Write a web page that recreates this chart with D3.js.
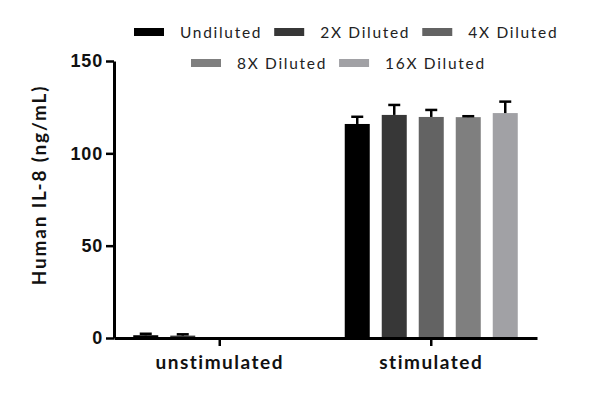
<!DOCTYPE html>
<html><head><meta charset="utf-8">
<script src="https://cdn.jsdelivr.net/npm/d3@7"></script>
<style>body{margin:0;background:#fff}</style>
</head><body>
<svg id="c" width="600" height="395"></svg>
<script>
const categories = ["unstimulated", "stimulated"];
const seriesNames = ["Undiluted", "2X Diluted", "4X Diluted", "8X Diluted", "16X Diluted"];
const seriesColors = ["#000000", "#373737", "#636363", "#7f7f7f", "#a1a1a5"];
const unstimulatedValues = [1.5, 1.3, 0, 0, 0];
const unstimulatedErrors = [0.8, 0.7, 0, 0, 0];
const stimulatedValues = [115.9, 120.8, 119.7, 119.6, 121.8];
const stimulatedErrors = [3.9, 5.4, 3.8, 0.5, 6.2];
const yTicks = [0, 50, 100, 150];

const valuesByCat = [unstimulatedValues, stimulatedValues];
const errorsByCat = [unstimulatedErrors, stimulatedErrors];

const svg = d3.select("#c");
const mLeft = 114, mRight = 537, mTop = 61, mBottom = 338;

const y = d3.scaleLinear().domain([0, 150]).range([mBottom, mTop]);
const x0 = d3.scaleBand().domain(categories).range([mLeft, mRight]).padding(0);
const x1 = d3.scaleBand().domain(seriesNames).range([0, x0.bandwidth()]).paddingInner(0.324).paddingOuter(0.52);

const data = [];
categories.forEach((c, ci) => seriesNames.forEach((s, si) => {
  data.push({cat: c, series: s, color: seriesColors[si], v: valuesByCat[ci][si], e: errorsByCat[ci][si]});
}));

const g = svg.append("g");
const shown = data.filter(d => d.v > 0);
g.selectAll("rect.bar").data(shown).join("rect")
  .attr("x", d => x0(d.cat) + x1(d.series))
  .attr("width", x1.bandwidth())
  .attr("y", d => y(d.v))
  .attr("height", d => y(0) - y(d.v))
  .attr("fill", d => d.color);

const eb = g.selectAll("g.err").data(shown).join("g");
eb.append("line")
  .attr("x1", d => x0(d.cat) + x1(d.series) + x1.bandwidth()/2)
  .attr("x2", d => x0(d.cat) + x1(d.series) + x1.bandwidth()/2)
  .attr("y1", d => y(d.v)).attr("y2", d => y(d.v + d.e))
  .attr("stroke", "#000").attr("stroke-width", 2.5);
eb.append("line")
  .attr("x1", d => x0(d.cat) + x1(d.series) + x1.bandwidth()/2 - 6)
  .attr("x2", d => x0(d.cat) + x1(d.series) + x1.bandwidth()/2 + 6)
  .attr("y1", d => y(d.v + d.e)).attr("y2", d => y(d.v + d.e))
  .attr("stroke", "#000").attr("stroke-width", 2.5);

// Y axis
const yAxis = svg.append("g").attr("transform", `translate(${mLeft},0)`)
  .call(d3.axisLeft(y).tickValues(yTicks).tickSize(8).tickSizeOuter(0).tickPadding(3));
yAxis.select(".domain").attr("stroke", "#000").attr("stroke-width", 3);
yAxis.selectAll(".tick line").attr("stroke", "#000").attr("stroke-width", 2.5);
yAxis.selectAll(".tick text").attr("fill", "#111")
  .style("font-family", "'Liberation Sans', Arial, sans-serif").style("font-weight", "bold")
  .style("font-size", "18px").style("letter-spacing", "0.8px");

// X axis
const xAxis = svg.append("g").attr("transform", `translate(0,${mBottom})`)
  .call(d3.axisBottom(x0).tickSize(8).tickSizeOuter(0).tickPadding(10));
xAxis.select(".domain").attr("stroke", "#000").attr("stroke-width", 3);
xAxis.selectAll(".tick line").attr("stroke", "#000").attr("stroke-width", 2.5);
xAxis.selectAll(".tick text").attr("fill", "#111")
  .style("font-family", "Lato, sans-serif").style("font-weight", "bold")
  .style("font-size", "19px").style("letter-spacing", "1.5px");

// Y title
svg.append("text")
  .attr("transform", `translate(46,185) rotate(-90)`)
  .attr("text-anchor", "middle")
  .style("font-family", "Lato, sans-serif").style("font-weight", "bold")
  .style("font-size", "19px").style("letter-spacing", "1.8px")
  .attr("fill", "#111")
  .text("Human IL-8 (ng/mL)");

// Legend
const legendRows = [[0, 1, 2], [3, 4]];
const rowStarts = [134, 191];
const rowYs = [32, 63];
legendRows.forEach((row, ri) => {
  let xx = rowStarts[ri];
  row.forEach(si => {
    const it = svg.append("g").attr("transform", `translate(${xx},${rowYs[ri]})`);
    it.append("rect").attr("x", 0).attr("y", -4).attr("width", 30).attr("height", 8).attr("fill", seriesColors[si]);
    const t = it.append("text").attr("x", 46).attr("y", 5.5)
      .style("font-family", "Lato, sans-serif").style("font-size", "15.5px").style("letter-spacing", "1.7px")
      .attr("fill", "#222").text(seriesNames[si]);
    const w = t.node().getComputedTextLength();
    xx += 46 + w + 12;
  });
});
</script>
</body></html>
